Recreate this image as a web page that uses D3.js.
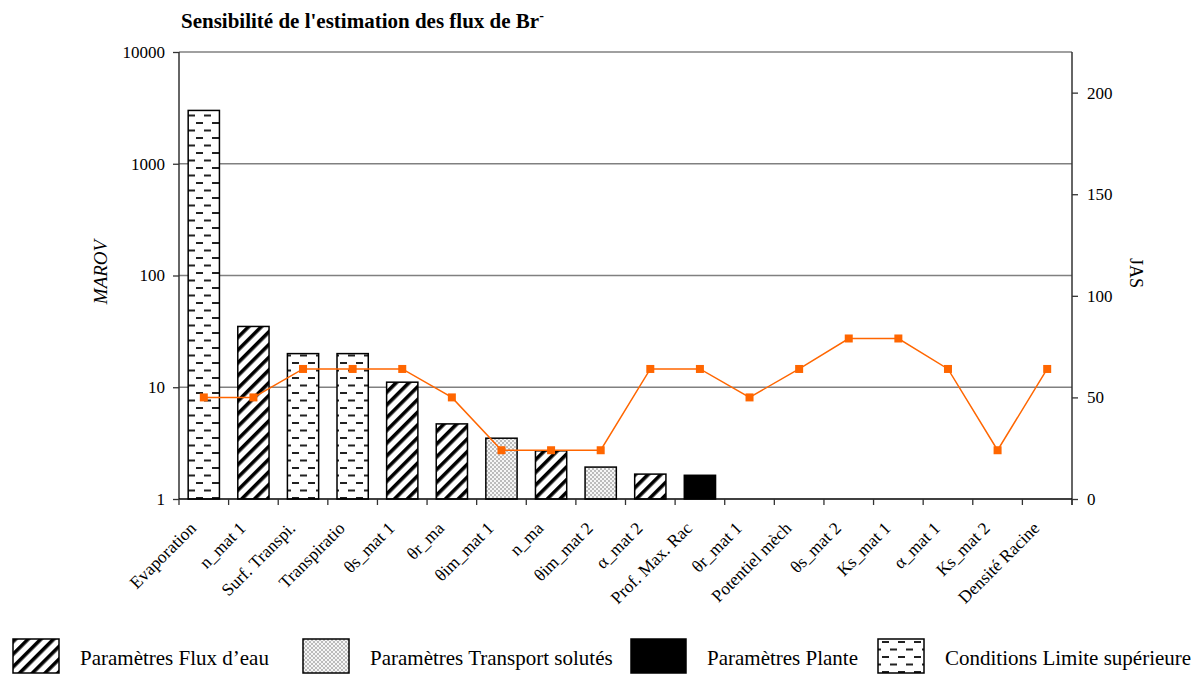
<!DOCTYPE html>
<html>
<head>
<meta charset="utf-8">
<script src="https://cdn.jsdelivr.net/npm/d3@7"></script>
<style>
  html, body { margin: 0; padding: 0; background: #fff; }
  svg { display: block; font-family: "Times New Roman", "Liberation Serif", serif; }
</style>
</head>
<body>
<svg id="chart" width="1194" height="675"></svg>
<script>
// Parameter names along the x axis (as printed, some clipped)
const categories = [
  "Evaporation", "n_mat 1", "Surf. Transpi.", "Transpiratio", "θs_mat 1", "θr_ma",
  "θim_mat 1", "n_ma", "θim_mat 2", "α_mat 2", "Prof. Max. Rac", "θr_mat 1",
  "Potentiel mèch", "θs_mat 2", "Ks_mat 1", "α_mat 1", "Ks_mat 2", "Densité Racine"
];
// MAROV (log scale, left axis)
const marovValues = [3000, 35, 20, 20, 11.1, 4.7, 3.5, 2.7, 1.93, 1.67, 1.63, 1, 1, 1, 1, 1, 1, 1];
// Parameter group of each bar
const groups = [
  "limite", "flux", "limite", "limite", "flux", "flux", "transport", "flux", "transport",
  "flux", "plante", "flux", "flux", "flux", "flux", "flux", "flux", "plante"
];
// JAS (linear, right axis)
const jasValues = [50, 50, 64, 64, 64, 50, 24, 24, 24, 64, 64, 50, 64, 79, 79, 64, 24, 64];

const leftTicks = [1, 10, 100, 1000, 10000];
const rightTicks = [0, 50, 100, 150, 200];

const legendItems = [
  { key: "flux", label: "Paramètres Flux d’eau" },
  { key: "transport", label: "Paramètres Transport solutés" },
  { key: "plante", label: "Paramètres Plante" },
  { key: "limite", label: "Conditions Limite supérieure" }
];

const FONT = "\"Times New Roman\", \"Liberation Serif\", serif";
const svg = d3.select("#chart");
const plot = { left: 179, right: 1072, top: 52, bottom: 499 };

// ---- fill patterns ----
const defs = svg.append("defs");

const stripes = defs.append("pattern").attr("id", "pat-flux")
  .attr("patternUnits", "userSpaceOnUse").attr("width", 9).attr("height", 9)
  .attr("patternTransform", "rotate(45)");
stripes.append("rect").attr("width", 9).attr("height", 9).attr("fill", "#fff");
stripes.append("rect").attr("x", 0).attr("width", 3.6).attr("height", 9).attr("fill", "#000");

const dots = defs.append("pattern").attr("id", "pat-transport")
  .attr("patternUnits", "userSpaceOnUse").attr("width", 4).attr("height", 4);
dots.append("rect").attr("width", 4).attr("height", 4).attr("fill", "#f6f6f6");
dots.append("circle").attr("cx", 1).attr("cy", 1).attr("r", 0.75).attr("fill", "#666");
dots.append("circle").attr("cx", 3).attr("cy", 3).attr("r", 0.75).attr("fill", "#666");

const dashes = defs.append("pattern").attr("id", "pat-limite")
  .attr("patternUnits", "userSpaceOnUse").attr("width", 16).attr("height", 15);
dashes.append("rect").attr("width", 16).attr("height", 15).attr("fill", "#fff");
dashes.append("rect").attr("x", 4).attr("y", 2).attr("width", 7).attr("height", 2).attr("fill", "#222");
dashes.append("rect").attr("x", -4).attr("y", 9.5).attr("width", 7).attr("height", 2).attr("fill", "#222");
dashes.append("rect").attr("x", 12).attr("y", 9.5).attr("width", 7).attr("height", 2).attr("fill", "#222");

const fills = { flux: "url(#pat-flux)", transport: "url(#pat-transport)", plante: "#000", limite: "url(#pat-limite)" };

// ---- scales ----
const x = d3.scaleBand().domain(categories).range([plot.left, plot.right])
  .paddingInner(0.37).paddingOuter(0.185);
const yL = d3.scaleLog().domain([1, 10000]).range([plot.bottom, plot.top]);
const yR = d3.scaleLinear().domain([0, 220]).range([plot.bottom, plot.top]);

// ---- gridlines ----
svg.append("g").selectAll("line").data(leftTicks.slice(1)).join("line")
  .attr("x1", plot.left).attr("x2", plot.right)
  .attr("y1", d => yL(d)).attr("y2", d => yL(d))
  .attr("stroke", "#808080").attr("stroke-width", 1.3);

// ---- bars ----
const barData = categories.map((c, i) => ({ c, v: marovValues[i], g: groups[i] }));
svg.append("g").selectAll("rect").data(barData.filter(d => d.v > 1)).join("rect")
  .attr("x", d => x(d.c)).attr("width", x.bandwidth())
  .attr("y", d => yL(d.v)).attr("height", d => yL(1) - yL(d.v))
  .attr("fill", d => fills[d.g]).attr("stroke", "#000").attr("stroke-width", 1.5);

// ---- axes ----
const axisL = svg.append("g").attr("transform", `translate(${plot.left},0)`)
  .call(d3.axisLeft(yL).tickValues(leftTicks).tickFormat(d3.format("d")).tickSizeOuter(0).tickSize(6));
const axisR = svg.append("g").attr("transform", `translate(${plot.right},0)`)
  .call(d3.axisRight(yR).tickValues(rightTicks).tickSizeOuter(0).tickSize(6));
[axisL, axisR].forEach(a => {
  a.attr("font-family", FONT);
  a.select(".domain").attr("stroke", "#333").attr("stroke-width", 1.5);
  a.selectAll(".tick line").attr("stroke", "#333").attr("stroke-width", 1.3);
  a.selectAll(".tick text").attr("font-family", FONT).attr("font-size", 17).attr("fill", "#000");
});
axisL.selectAll(".tick text").attr("x", -14);
axisR.selectAll(".tick text").attr("x", 15);
axisL.select(".domain").attr("d", `M0,${plot.top}V${plot.bottom}`);
axisR.select(".domain").attr("d", `M0,${plot.top}V${plot.bottom + 6}`);

// bottom axis with ticks between categories
const step = x.step();
const boundaries = d3.range(categories.length + 1).map(i => plot.left + i * step);
svg.append("line").attr("x1", plot.left).attr("x2", plot.right)
  .attr("y1", plot.bottom).attr("y2", plot.bottom).attr("stroke", "#000").attr("stroke-width", 1.5);
svg.append("g").selectAll("line").data(boundaries).join("line")
  .attr("x1", d => d).attr("x2", d => d)
  .attr("y1", plot.bottom).attr("y2", plot.bottom + 6)
  .attr("stroke", "#333").attr("stroke-width", 1.3);

// category labels, rotated
svg.append("g").selectAll("text").data(categories).join("text")
  .attr("transform", d => `translate(${x(d) + x.bandwidth() / 2 - 11},${plot.bottom + 26}) rotate(-45)`)
  .attr("text-anchor", "end").attr("dy", "0.35em")
  .attr("font-size", 17.5).text(d => d);

// ---- JAS line ----
const pts = categories.map((c, i) => [x(c) + x.bandwidth() / 2, yR(jasValues[i])]);
svg.append("path").attr("d", d3.line()(pts))
  .attr("fill", "none").attr("stroke", "#FF6600").attr("stroke-width", 1.5);
svg.append("g").selectAll("rect").data(pts).join("rect")
  .attr("x", d => d[0] - 4).attr("y", d => d[1] - 4).attr("width", 8).attr("height", 8)
  .attr("fill", "#FF6600");

// ---- titles ----
const title = svg.append("text").attr("x", 181).attr("y", 28)
  .attr("font-size", 21).attr("font-weight", "bold");
title.append("tspan").text("Sensibilité de l'estimation des flux de Br");
title.append("tspan").attr("dy", -8).attr("font-size", 14).text("-");

svg.append("text").attr("transform", `translate(107,272) rotate(-90)`)
  .attr("text-anchor", "middle").attr("font-size", 19).attr("font-style", "italic").text("MAROV");
svg.append("text").attr("transform", `translate(1130,273) rotate(90)`)
  .attr("text-anchor", "middle").attr("font-size", 18).text("JAS");

// ---- legend ----
const legendX = [13, 303, 631, 878];
const legendW = [46, 46, 55, 46];
const legend = svg.append("g").selectAll("g").data(legendItems).join("g")
  .attr("transform", (d, i) => `translate(${legendX[i]},639)`);
legend.append("rect").attr("width", (d, i) => legendW[i]).attr("height", 34)
  .attr("fill", d => fills[d.key]).attr("stroke", "#000").attr("stroke-width", 1.5);
legend.append("text").attr("x", (d, i) => legendW[i] + 21).attr("y", 26).attr("font-size", 21).text(d => d.label);
</script>
</body>
</html>
